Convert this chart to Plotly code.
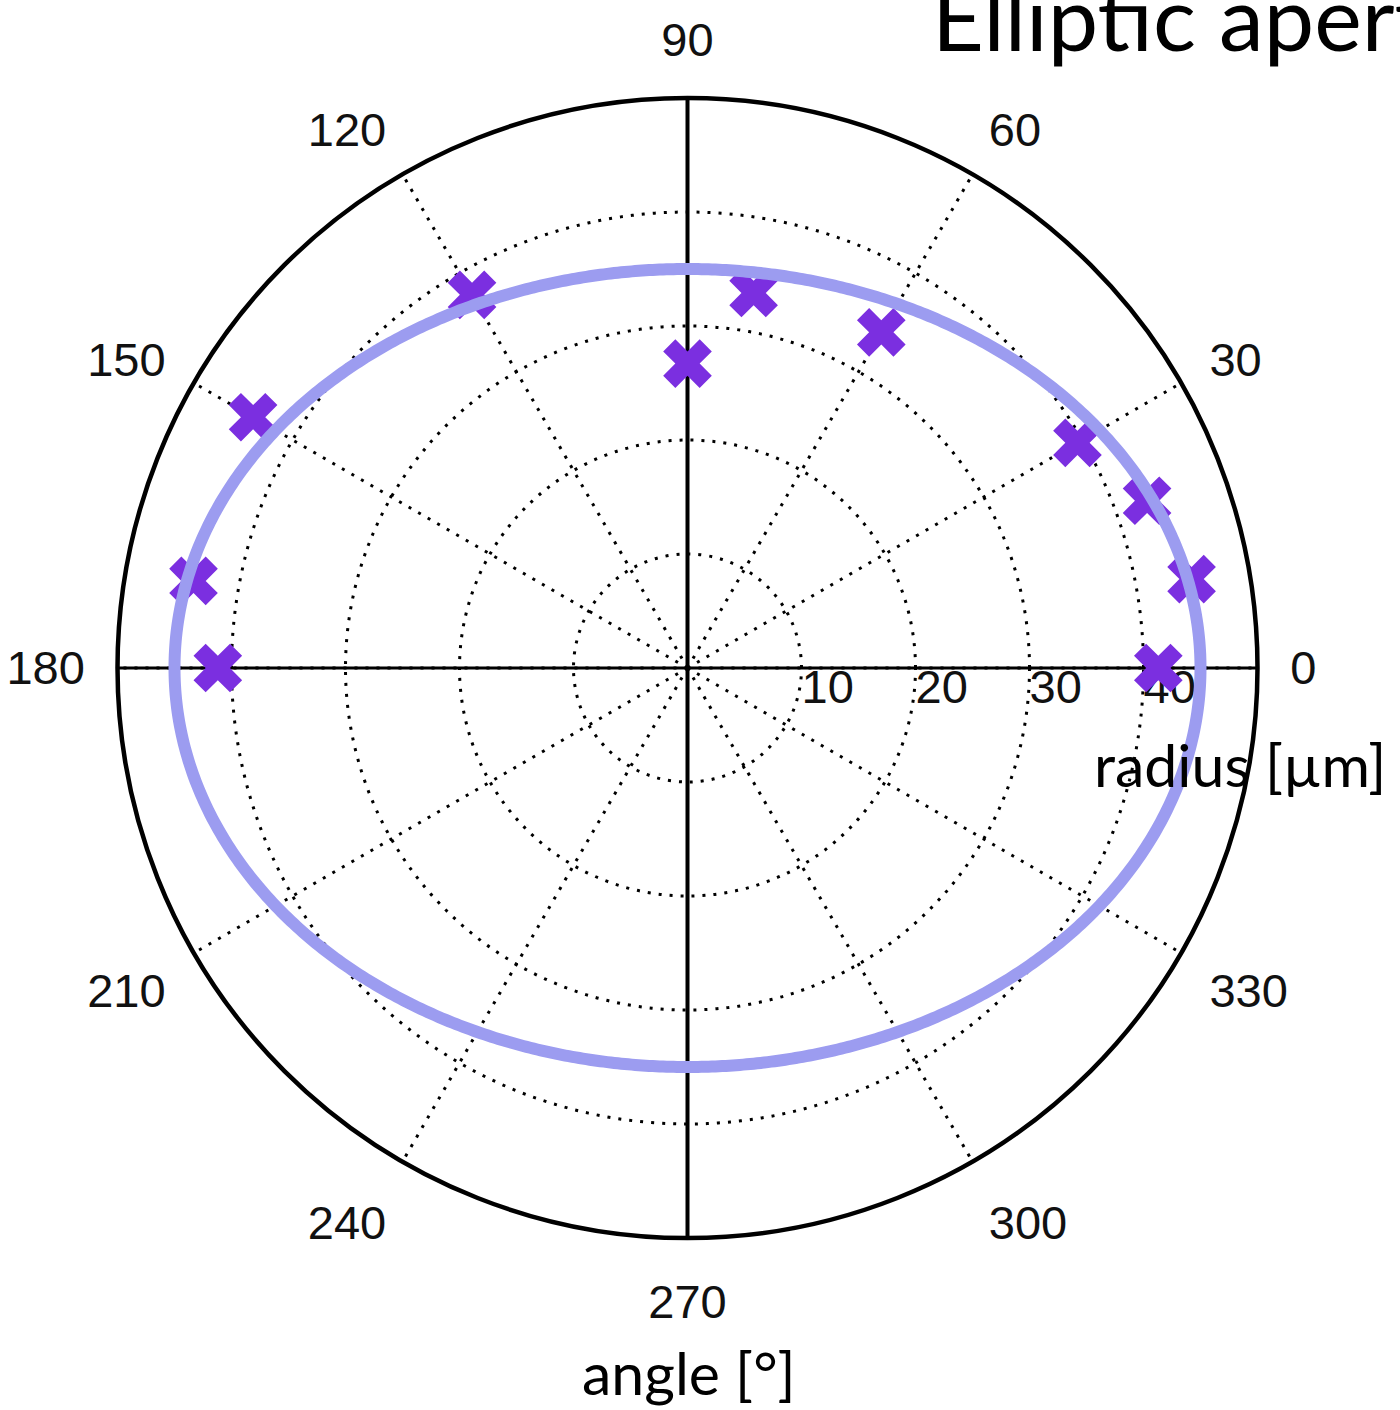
import numpy as np
import plotly.graph_objects as go

# ---- data ----
meas_theta = [0, 10, 20, 30, 60, 80, 90, 120, 150, 170, 180]
meas_r = [41.3, 44.9, 42.9, 39.5, 34.0, 33.4, 26.7, 37.8, 44.0, 44.0, 41.2]

fit_semi_major = 45.0   # along 0-180
fit_semi_minor = 35.0   # along 90-270

angle_ticks = [0, 30, 60, 90, 120, 150, 180, 210, 240, 270, 300, 330]
radius_ticks = [10, 20, 30, 40]
radius_max = 50
cross_angles = [0, 90, 180, 270]

title_text = "Elliptic aperture"
radius_label = "radius [µm]"
angle_label = "angle [°]"

# ---- fitted ellipse curve in polar form ----
fit_theta = np.linspace(0, 360, 721)
t = np.radians(fit_theta)
fit_r = fit_semi_major * fit_semi_minor / np.sqrt(
    (fit_semi_minor * np.cos(t)) ** 2 + (fit_semi_major * np.sin(t)) ** 2)

W, H = 1400, 1410
cx, cy, R = 687.5, 668.0, 570.0
dom_x = [(cx - R) / W, (cx + R) / W]
dom_y = [(H - cy - R) / H, (H - cy + R) / H]

tick_font = dict(family="Liberation Sans, Arial, sans-serif", size=47, color="#111111")
label_font = dict(family="Lato, sans-serif", size=59, color="black")

fig = go.Figure()

# radial tick labels (MATLAB style, right of each ring, below the 0° axis)
fig.add_trace(go.Scatterpolar(
    r=radius_ticks, theta=[0] * len(radius_ticks), mode="text",
    text=[str(v) for v in radius_ticks], textposition="bottom right",
    textfont=tick_font, hoverinfo="skip", showlegend=False))

# solid cross lines through the centre
fig.add_trace(go.Scatterpolar(
    r=[radius_max, 0, radius_max], theta=[cross_angles[0], 0, cross_angles[2]],
    mode="lines", line=dict(color="black", width=3), hoverinfo="skip", showlegend=False))
fig.add_trace(go.Scatterpolar(
    r=[radius_max, 0, radius_max], theta=[cross_angles[1], 0, cross_angles[3]],
    mode="lines", line=dict(color="black", width=4), hoverinfo="skip", showlegend=False))

# measured points
fig.add_trace(go.Scatterpolar(
    r=meas_r, theta=meas_theta, mode="markers",
    marker=dict(symbol="x", size=43, color="#7b2fe0", line=dict(width=0)),
    showlegend=False))

# fitted ellipse
fig.add_trace(go.Scatterpolar(
    r=fit_r, theta=fit_theta, mode="lines",
    line=dict(color="#9c9cf0", width=12), showlegend=False))

fig.update_layout(
    width=W, height=H,
    margin=dict(l=0, r=0, t=0, b=0),
    paper_bgcolor="white", plot_bgcolor="white",
    showlegend=False,
    polar=dict(
        domain=dict(x=dom_x, y=dom_y),
        bgcolor="white",
        radialaxis=dict(
            range=[0, radius_max], tickvals=radius_ticks, showticklabels=False,
            ticks="", showline=False, angle=0,
            gridcolor="black", gridwidth=3, griddash="3px,8px"),
        angularaxis=dict(
            direction="counterclockwise", rotation=0,
            tickmode="array", tickvals=angle_ticks,
            ticktext=[str(v) for v in angle_ticks],
            tickfont=tick_font, ticks="outside", ticklen=21,
            tickcolor="rgba(0,0,0,0)",
            showline=True, linecolor="black", linewidth=4.5,
            gridcolor="black", gridwidth=3, griddash="3px,8px"),
    ),
    annotations=[
        dict(text=title_text, xref="paper", yref="paper", x=930 / W, y=1 - 16 / H,
             xanchor="left", yanchor="middle", showarrow=False,
             font=dict(family="Lato, sans-serif", size=90, color="black")),
        dict(text=radius_label, xref="paper", yref="paper", x=1240 / W, y=1 - 765 / H,
             xanchor="center", yanchor="middle", showarrow=False, font=label_font),
        dict(text=angle_label, xref="paper", yref="paper", x=689 / W, y=1 - 1372 / H,
             xanchor="center", yanchor="middle", showarrow=False, font=label_font),
    ],
)

fig.write_html("out.html")
